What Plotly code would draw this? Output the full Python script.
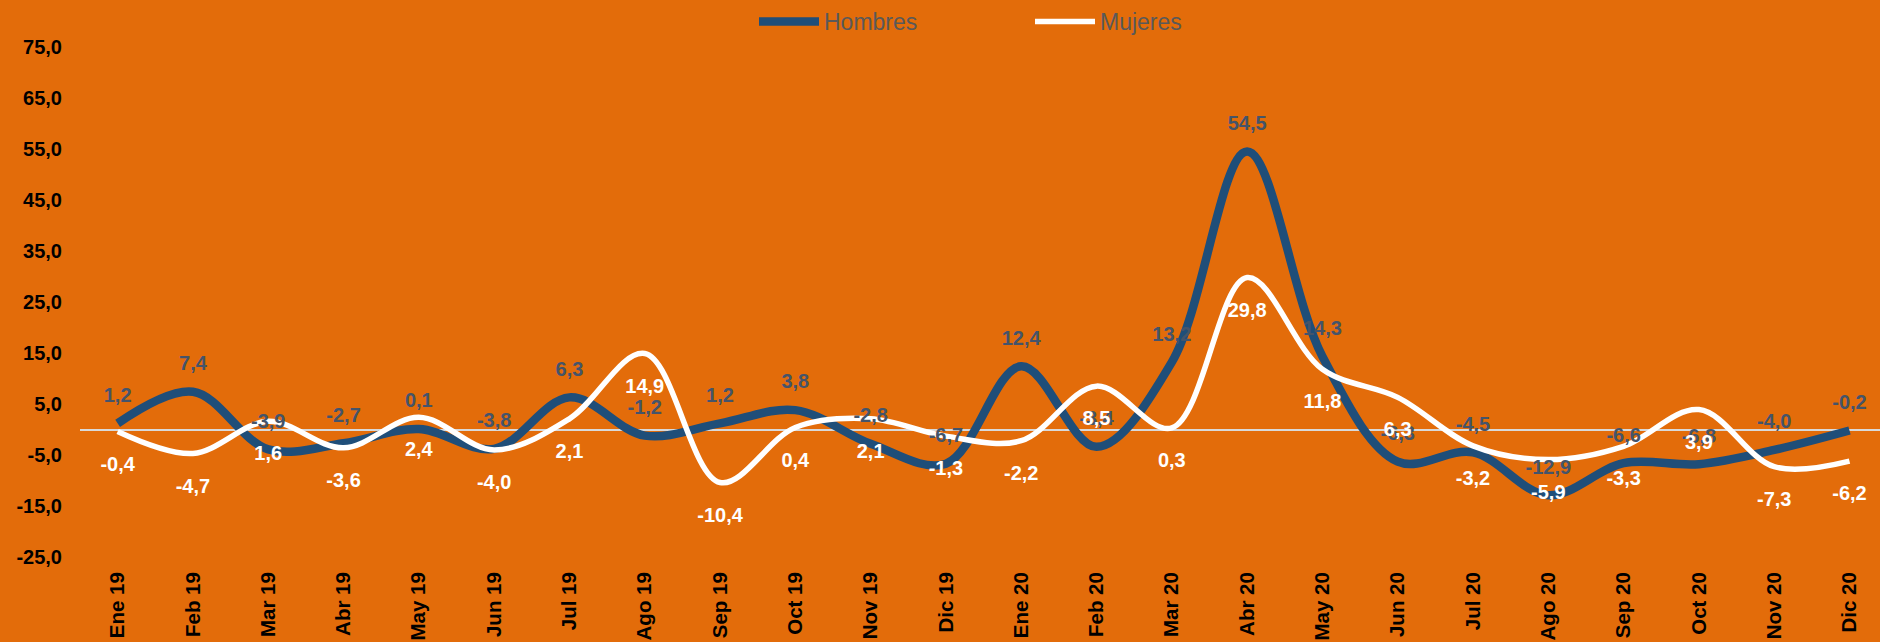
import plotly.graph_objects as go

months = ["Ene 19", "Feb 19", "Mar 19", "Abr 19", "May 19", "Jun 19", "Jul 19", "Ago 19",
          "Sep 19", "Oct 19", "Nov 19", "Dic 19", "Ene 20", "Feb 20", "Mar 20", "Abr 20",
          "May 20", "Jun 20", "Jul 20", "Ago 20", "Sep 20", "Oct 20", "Nov 20", "Dic 20"]

hombres = [1.2, 7.4, -3.9, -2.7, 0.1, -3.8, 6.3, -1.2, 1.2, 3.8, -2.8, -6.7,
           12.4, -3.4, 13.2, 54.5, 14.3, -6.3, -4.5, -12.9, -6.6, -6.8, -4.0, -0.2]

mujeres = [-0.4, -4.7, 1.6, -3.6, 2.4, -4.0, 2.1, 14.9, -10.4, 0.4, 2.1, -1.3,
           -2.2, 8.5, 0.3, 29.8, 11.8, 6.3, -3.2, -5.9, -3.3, 3.9, -7.3, -6.2]

y_ticks = [-25, -15, -5, 5, 15, 25, 35, 45, 55, 65, 75]


def fmt(v):
    return f"{v:.1f}".replace(".", ",")


BG = "#E36C0A"
BLUE = "#1F4E79"
BLUE_LABEL = "#44546A"
FONT = "Liberation Sans, Arial, sans-serif"

fig = go.Figure()

fig.add_trace(go.Scatter(
    x=months, y=hombres, name="Hombres", mode="lines",
    line=dict(color=BLUE, width=8.5, shape="spline", smoothing=1.0),
    hoverinfo="skip"))
fig.add_trace(go.Scatter(
    x=months, y=mujeres, name="Mujeres", mode="lines",
    line=dict(color="#FFFFFF", width=5.5, shape="spline", smoothing=1.0),
    hoverinfo="skip"))

fig.add_trace(go.Scatter(
    x=months, y=hombres, mode="markers+text", showlegend=False,
    text=[fmt(v) for v in hombres], textposition="top center",
    marker=dict(size=25, color="rgba(0,0,0,0)"),
    textfont=dict(family=FONT, size=20, color=BLUE_LABEL, weight="bold"),
    hoverinfo="skip", cliponaxis=False))
fig.add_trace(go.Scatter(
    x=months, y=mujeres, mode="markers+text", showlegend=False,
    text=[fmt(v) for v in mujeres], textposition="bottom center",
    marker=dict(size=37, color="rgba(0,0,0,0)"),
    textfont=dict(family=FONT, size=20, color="#FFFFFF", weight="bold"),
    hoverinfo="skip", cliponaxis=False))

fig.update_layout(
    width=1880, height=642,
    paper_bgcolor=BG, plot_bgcolor=BG,
    margin=dict(l=80, r=0, t=47, b=85, autoexpand=False),
    font=dict(family=FONT),
    showlegend=True,
    hovermode=False,
    legend=dict(
        orientation="h", xref="container", yref="container",
        x=754 / 1880, xanchor="left", y=1, yanchor="top",
        font=dict(family=FONT, size=23, color="#595959"),
        bgcolor="rgba(0,0,0,0)", itemwidth=60,
        entrywidth=201, entrywidthmode="pixels", tracegroupgap=0,
    ),
    xaxis=dict(
        type="category", range=[-0.5, 23.405], showgrid=False, zeroline=False,
        showline=False, ticks="", tickangle=-90, automargin=False,
        tickfont=dict(family=FONT, size=20.5, color="#000000", weight="bold"),
        ticklabelstandoff=10,
    ),
    yaxis=dict(
        range=[-25, 75], showgrid=False, zeroline=True, zerolinecolor="#D9D9D9",
        zerolinewidth=2, showline=False, ticks="", automargin=False,
        tickvals=y_ticks, ticktext=[fmt(v) for v in y_ticks],
        tickfont=dict(family=FONT, size=20, color="#000000", weight="bold"),
        ticklabelstandoff=17,
    ),
)

fig.write_html(
    "out.html",
    config={"displayModeBar": False},
    post_script="document.body.style.margin='0';document.body.style.overflow='hidden';",
)
